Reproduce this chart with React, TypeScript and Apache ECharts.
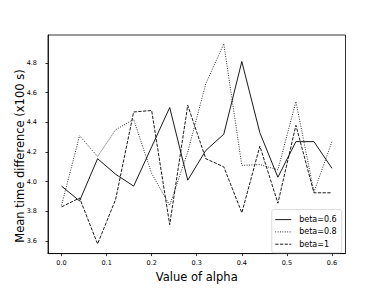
import React, { useEffect, useRef } from "react";
import * as echarts from "echarts";

const alphas = [0, 0.04, 0.08, 0.12, 0.16, 0.2, 0.24, 0.28, 0.32, 0.36, 0.4, 0.44, 0.48, 0.52, 0.56, 0.6];
const beta06 = [3.97, 3.87, 4.155, 4.05, 3.97, 4.235, 4.5, 4.01, 4.21, 4.32, 4.81, 4.33, 4.03, 4.27, 4.27, 4.09];
const beta08 = [3.84, 4.31, 4.17, 4.35, 4.42, 4.055, 3.84, 4.2, 4.66, 4.93, 4.11, 4.115, 4.08, 4.54, 3.93, 4.27];
const beta1 = [3.83, 3.89, 3.58, 3.88, 4.47, 4.48, 3.71, 4.515, 4.155, 4.1, 3.79, 4.24, 3.855, 4.38, 3.925, 3.925];
const xTicks = [0, 0.1, 0.2, 0.3, 0.4, 0.5, 0.6];
const yTicks = [3.6, 3.8, 4.0, 4.2, 4.4, 4.6, 4.8];
const seriesNames = ["beta=0.6", "beta=0.8", "beta=1"];

const FONT = "DejaVu Sans";

export default function App() {
  const ref = useRef<HTMLDivElement>(null);
  useEffect(() => {
    if (!ref.current) return;
    const chart = echarts.init(ref.current, undefined, { renderer: "svg" });
    const mk = (vals: number[]) => alphas.map((a, i) => [a, vals[i]]);
    const lineTypes: any[] = ["solid", [0.9, 1.5], [3.3, 1.4]];
    const datasets = [beta06, beta08, beta1];
    chart.setOption({
      animation: false,
      grid: {
        left: 48,
        right: 38.5,
        top: 35,
        bottom: 32,
        show: true,
        borderColor: "#000",
        borderWidth: 0.8,
        backgroundColor: "transparent",
      },
      xAxis: {
        type: "value",
        min: -0.03,
        max: 0.63,
        splitLine: { show: false },
        axisLine: { show: true, onZero: false, lineStyle: { color: "#000", width: 0.8 } },
        axisTick: { show: true, length: 2.5, lineStyle: { color: "#000", width: 0.8 }, customValues: xTicks },
        axisLabel: {
          customValues: xTicks,
          formatter: (v: number) => v.toFixed(1),
          fontFamily: FONT,
          fontSize: 6.5,
          color: "#000",
          margin: 5.5,
        },
        name: "Value of alpha",
        nameLocation: "middle",
        nameGap: 16,
        nameTextStyle: { fontFamily: FONT, fontSize: 11.5, color: "#000" },
      },
      yAxis: {
        type: "value",
        min: 3.515,
        max: 4.989,
        splitLine: { show: false },
        axisLine: { show: true, onZero: false, lineStyle: { color: "#000", width: 0.8 } },
        axisTick: { show: true, length: 2.5, lineStyle: { color: "#000", width: 0.8 }, customValues: yTicks },
        axisLabel: {
          customValues: yTicks,
          formatter: (v: number) => v.toFixed(1),
          fontFamily: FONT,
          fontSize: 6.5,
          color: "#000",
          margin: 11,
        },
      },
      graphic: [
        {
          type: "text",
          x: 20,
          y: 156,
          rotation: Math.PI / 2,
          style: {
            text: "Mean time difference (x100 s)",
            fontFamily: FONT,
            fontSize: 11.5,
            fill: "#000",
            align: "center",
            verticalAlign: "middle",
          },
        },
      ],
      legend: {
        orient: "vertical",
        right: 42.3,
        bottom: 35.3,
        backgroundColor: "#fff",
        borderColor: "#d0d0d0",
        borderWidth: 0.8,
        borderRadius: 2,
        padding: [6, 5, 4.5, 3],
        itemWidth: 16,
        itemHeight: 8,
        itemGap: 4.3,
        itemStyle: { opacity: 0 },
        lineStyle: { width: 0.9 },
        textStyle: { fontFamily: FONT, fontSize: 8, color: "#000", padding: [0, 0, 0, 3] },
        data: seriesNames,
      },
      series: datasets.map((d, i) => ({
        name: seriesNames[i],
        type: "line",
        data: mk(d),
        symbol: "none",
        showSymbol: false,
        lineStyle: { color: "#000", width: 0.9, type: lineTypes[i] },
        itemStyle: { color: "#000" },
      })),
    });
    return () => chart.dispose();
  }, []);
  return <div ref={ref} style={{ width: 384, height: 288, position: "absolute", left: 0, top: 0 }} />;
}
